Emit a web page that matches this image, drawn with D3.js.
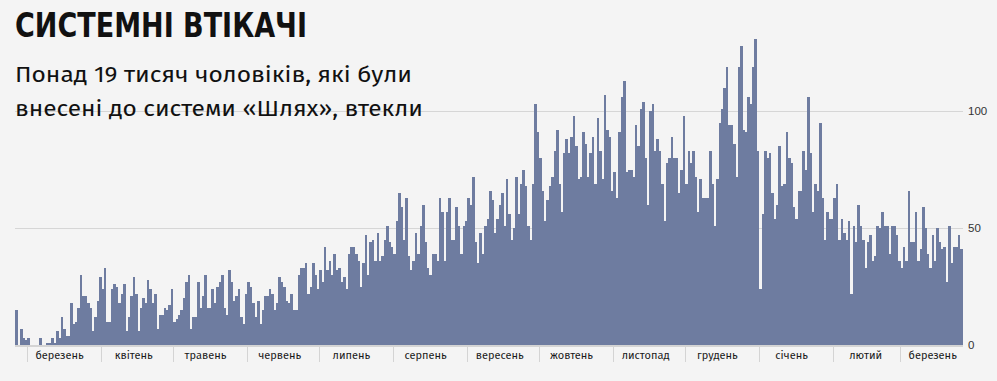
<!DOCTYPE html>
<html>
<head>
<meta charset="utf-8">
<script src="https://cdn.jsdelivr.net/npm/d3@7"></script>
<style>
  html, body { margin: 0; padding: 0; background: #f4f4f4; }
  svg { display: block; }
</style>
</head>
<body>
<svg id="chart" width="997" height="381"></svg>
<script>
// ---- data ----
const title = "СИСТЕМНІ ВТІКАЧІ";
const subtitleLines = ["Понад 19 тисяч чоловіків, які були", "внесені до системи «Шлях», втекли"];
const startDay = "2022-02-24";
const endDay = "2023-03-27";
const dailyValues = [
  15,0,7,3,2,3,0,0,0,0, 3,0,0,1,1,3,1,6,3,12,
  7,4,4,18,9,10,16,30,21,21, 18,16,6,12,19,29,24,33,10,10,
  24,26,25,18,22,26,6,12,21,29, 22,6,16,20,18,28,24,18,22,7,
  13,13,16,15,17,24,10,11,13,15, 20,27,30,7,12,12,27,16,21,30,
  16,16,24,18,25,27,30,16,13,32, 27,19,21,24,12,9,22,27,25,18,
  12,19,9,15,21,21,24,22,15,18, 29,27,25,19,18,22,15,15,30,33,
  33,35,22,25,35,30,24,32,27,42, 32,36,30,39,32,33,27,29,24,39,
  42,42,39,36,25,35,47,30,44,45, 36,48,36,38,45,51,44,42,39,53,
  65,59,45,63,38,32,36,48,39,51, 60,44,33,30,39,39,36,63,57,36,
  57,63,45,45,59,51,39,51,53,63, 60,72,44,35,48,39,51,54,66,62,
  48,54,60,65,51,71,56,45,50,72, 56,69,75,68,51,45,69,103,91,80,
  66,53,62,68,72,83,92,69,57,82, 88,82,89,98,85,71,72,91,86,72,
  82,89,69,97,83,71,107,92,89,66, 74,63,91,106,113,74,75,75,72,94,
  85,101,104,80,60,100,103,83,88,83, 69,53,78,80,89,80,80,65,75,98,
  69,83,78,83,72,57,71,63,63,63, 83,69,51,71,95,101,110,119,94,94,
  86,72,119,128,92,91,106,103,119,131, 83,24,56,83,80,82,65,54,60,85,
  68,69,91,80,78,59,54,66,66,83, 75,106,82,57,69,66,95,63,45,57,
  54,54,63,69,45,54,48,45,53,22, 51,44,60,51,45,33,44,47,36,38,
  51,50,57,51,51,39,51,51,47,36, 33,42,36,66,44,44,57,36,41,59,
  50,39,33,47,36,50,44,41,42,27, 51,35,42,42,47,41
];
const monthLabels = ["березень","квітень","травень","червень","липень","серпень","вересень","жовтень","листопад","грудень","січень","лютий","березень"];
const monthStarts = ["2022-03-01","2022-04-01","2022-05-01","2022-06-01","2022-07-01","2022-08-01","2022-09-01","2022-10-01","2022-11-01","2022-12-01","2023-01-01","2023-02-01","2023-03-01"];
const yTicks = [0, 50, 100];

// ---- drawing ----
const svg = d3.select("#chart");
const parse = d3.utcParse("%Y-%m-%d");
const t0 = parse(startDay), t1 = parse(endDay);
const days = dailyValues.map((v, i) => ({ date: d3.utcDay.offset(t0, i), value: v }));

const x = d3.scaleUtc().domain([t0, t1]).range([15.3, 962.6]);
const y = d3.scaleLinear().domain([0, 100]).range([345, 111.3]);

svg.append("rect").attr("width", 997).attr("height", 381).attr("fill", "#f4f4f4");

// gridlines
svg.append("g").selectAll("line")
  .data(yTicks.filter(d => d > 0))
  .join("line")
  .attr("x1", 15).attr("x2", 963)
  .attr("y1", d => Math.round(y(d)) + 0.5).attr("y2", d => Math.round(y(d)) + 0.5)
  .attr("stroke", "#d6d6d6").attr("stroke-width", 1);

// bars
svg.append("g").attr("shape-rendering", "crispEdges").selectAll("rect")
  .data(days)
  .join("rect")
  .attr("x", d => x(d.date))
  .attr("width", d => x(d3.utcDay.offset(d.date, 1)) - x(d.date) + 0.2)
  .attr("y", d => y(d.value))
  .attr("height", d => y(0) - y(d.value))
  .attr("fill", "#6e7ca0");

// bottom axis line
svg.append("line")
  .attr("x1", 15).attr("x2", 963).attr("y1", 346).attr("y2", 346)
  .attr("stroke", "#d4d4d4").attr("stroke-width", 2);

// month tick marks
const ms = monthStarts.map(parse);
svg.append("g").selectAll("line")
  .data(ms)
  .join("line")
  .attr("x1", d => Math.round(x(d)) + 0.5).attr("x2", d => Math.round(x(d)) + 0.5)
  .attr("y1", 346).attr("y2", 362)
  .attr("stroke", "#d4d4d4").attr("stroke-width", 1);

// month labels
svg.append("g").selectAll("text")
  .data(ms)
  .join("text")
  .attr("x", d => x(d3.utcHour.offset(d, 13 * 24 + 12)))
  .attr("y", 359)
  .attr("text-anchor", "middle")
  .attr("font-family", "'Fira Sans', 'Open Sans', 'Noto Sans', sans-serif")
  .attr("font-size", 11)
  .attr("fill", "#1a1a1a")
  .text((d, i) => monthLabels[i]);

// y labels
svg.append("g").selectAll("text")
  .data(yTicks)
  .join("text")
  .attr("x", 968)
  .attr("y", d => y(d))
  .attr("dy", "0.35em")
  .attr("font-family", "'Liberation Sans', Arial, sans-serif")
  .attr("font-size", 11.5)
  .attr("fill", "#333")
  .text(d => d);

// title
svg.append("text")
  .attr("x", 15).attr("y", 37)
  .attr("font-family", "'Liberation Sans Narrow', 'DejaVu Sans Condensed', 'Roboto', sans-serif")
  .attr("font-weight", 700)
  .attr("font-stretch", "condensed")
  .attr("font-size", 34)
  .attr("fill", "#111")
  .attr("textLength", 292)
  .attr("lengthAdjust", "spacingAndGlyphs")
  .text(title);

// subtitle
const subW = [397, 408];
svg.append("g").selectAll("text")
  .data(subtitleLines)
  .join("text")
  .attr("x", 15)
  .attr("y", (d, i) => 82 + i * 34)
  .attr("font-family", "'Fira Sans', 'Open Sans', 'Noto Sans', sans-serif")
  .attr("font-size", 22.5)
  .attr("fill", "#111")
  .attr("textLength", (d, i) => subW[i])
  .attr("lengthAdjust", "spacingAndGlyphs")
  .text(d => d);
</script>
</body>
</html>
